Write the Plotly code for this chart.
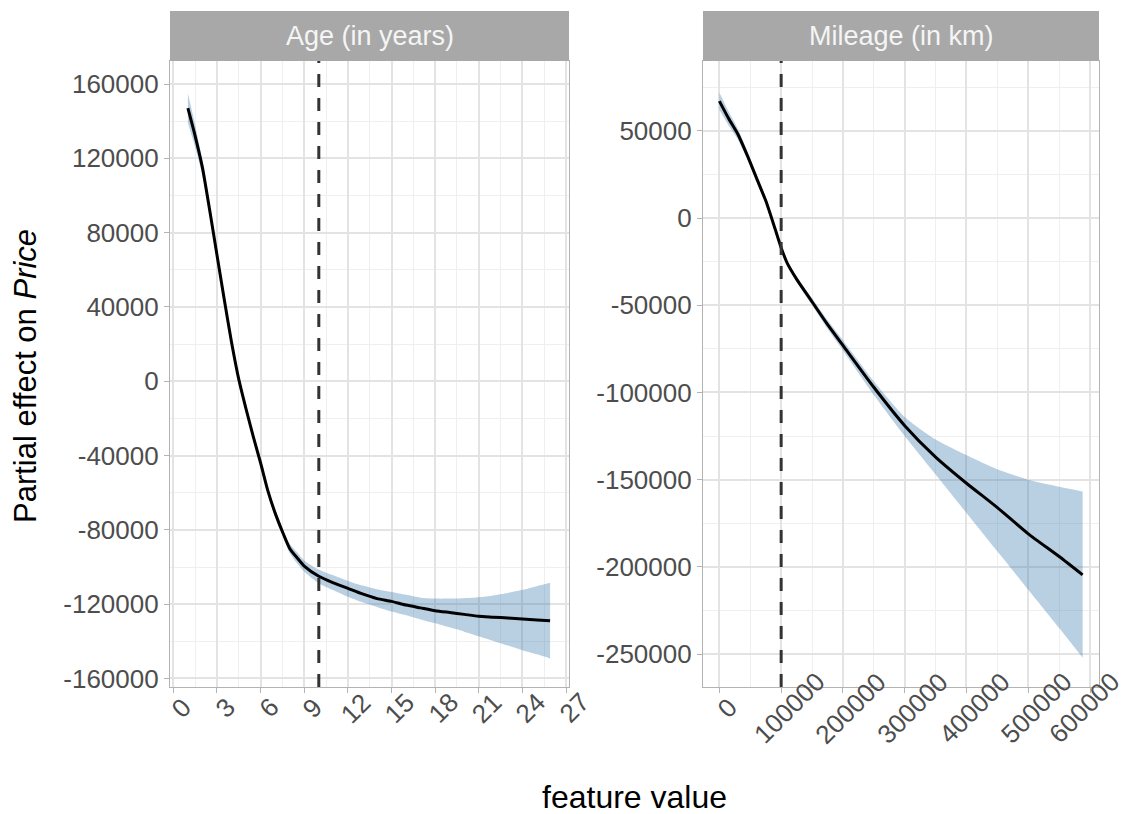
import plotly.graph_objects as go

# ---------------- data ----------------
age_x = [1, 1.5, 2, 2.5, 3, 3.5, 4, 4.5, 5, 5.5, 6, 6.5, 7, 7.5, 8, 8.5, 9, 10, 11, 12,
         13, 14, 15, 16, 17, 18, 19, 20, 21, 22, 23, 24, 25, 25.9]
age_fit = [147000, 132000, 115000, 92000, 68000, 44000, 21000, 1000, -15000, -30000,
           -44000, -59000, -71000, -81000, -90000, -95000, -99500, -105000, -108500, -111500,
           -114500, -117000, -118500, -120500, -122000, -123500, -124500, -125500, -126500,
           -127000, -127500, -128000, -128500, -129000]
age_upper = [155000, 138000, 119000, 95500, 71000, 47000, 24000, 3500, -13000, -28000,
             -42000, -57000, -69000, -79000, -87500, -92000, -96500, -101500, -104500, -107500,
             -110000, -112000, -113500, -115000, -116500, -117000, -117000, -116800, -116300,
             -115300, -114000, -112300, -110300, -108500]
age_lower = [139000, 126000, 111000, 88500, 65000, 41000, 18000, -1500, -17000, -32000,
             -46000, -61000, -73000, -83000, -92500, -98000, -102500, -108700, -112500, -116000,
             -119000, -121500, -124000, -126000, -128200, -130300, -132500, -134800, -137300,
             -139800, -142300, -144800, -147000, -149200]

mil_x = [0, 15000, 30000, 45000, 60000, 75000, 90000, 100000, 110000, 125000, 150000,
         175000, 200000, 250000, 300000, 350000, 400000, 450000, 500000, 550000, 588000]
mil_fit = [67000, 57000, 48000, 36000, 23000, 10000, -6000, -17000, -26000, -35000, -48000,
           -61000, -73000, -97000, -119000, -137000, -152000, -166000, -181000, -194000, -204500]
mil_upper = [72000, 61000, 51000, 38500, 25000, 12000, -4500, -15500, -24500, -33500, -46000,
             -58500, -70000, -93500, -114000, -127000, -136000, -144000, -150000, -154000, -156700]
mil_lower = [62000, 53000, 45000, 34000, 21000, 8000, -7500, -18500, -27500, -36500, -50000,
             -63500, -76000, -101500, -125000, -147000, -169000, -191000, -213000, -235000, -252000]

age_ref = 10
mil_ref = 100000
strip_labels = ["Age (in years)", "Mileage (in km)"]

age_xticks = [0, 3, 6, 9, 12, 15, 18, 21, 24, 27]
age_yticks = [-160000, -120000, -80000, -40000, 0, 40000, 80000, 120000, 160000]
mil_xticks = [0, 100000, 200000, 300000, 400000, 500000, 600000]
mil_yticks = [-250000, -200000, -150000, -100000, -50000, 0, 50000]

# ---------------- styles ----------------
W, H = 1121, 814
RIBBON = "rgba(70,130,180,0.38)"
TICKC = "#4D4D4D"
BORDER = "#B3B3B3"
GRID = "#E3E3E3"
MINOR = "#EFEFEF"
FONT = "Liberation Sans, Arial, sans-serif"
TICKSIZE = 26

fig = go.Figure()

def add_panel(x, lo, up, fit, xa, ya):
    sm = dict(shape="spline", smoothing=0.6)
    fig.add_trace(go.Scatter(x=x, y=lo, mode="lines", line=dict(width=0, **sm),
                             xaxis=xa, yaxis=ya, showlegend=False, hoverinfo="skip"))
    fig.add_trace(go.Scatter(x=x, y=up, mode="lines", line=dict(width=0, **sm), fill="tonexty",
                             fillcolor=RIBBON, xaxis=xa, yaxis=ya, showlegend=False,
                             hoverinfo="skip"))
    fig.add_trace(go.Scatter(x=x, y=fit, mode="lines",
                             line=dict(color="black", width=3, **sm),
                             xaxis=xa, yaxis=ya, showlegend=False))

add_panel(age_x, age_lower, age_upper, age_fit, "x", "y")
add_panel(mil_x, mil_lower, mil_upper, mil_fit, "x2", "y2")

ydom = [1 - 687 / H, 1 - 61 / H]
xdom1 = [170 / W, 569 / W]
xdom2 = [703 / W, 1099 / W]

common = dict(showline=True, linecolor=BORDER, linewidth=1.2, mirror=True,
              ticks="outside", ticklen=5, tickcolor=BORDER, tickwidth=1.2,
              showgrid=True, gridcolor=GRID, gridwidth=1.5, zeroline=False,
              tickfont=dict(family=FONT, size=TICKSIZE, color=TICKC), automargin=False,
              tickmode="array")

def minor(d):
    return dict(dtick=d, tick0=0, showgrid=True, gridcolor=MINOR, gridwidth=1, ticks="")

fig.update_layout(
    width=W, height=H, margin=dict(l=0, r=0, t=0, b=0),
    plot_bgcolor="white", paper_bgcolor="white",
    xaxis=dict(domain=xdom1, range=[-0.23, 27.2], tickvals=age_xticks,
               showticklabels=False, anchor="y", minor=minor(1.5), **common),
    yaxis=dict(domain=ydom, range=[-164600, 172400], tickvals=age_yticks,
               ticktext=[str(v) for v in age_yticks], anchor="x",
               minor=minor(20000), **common),
    xaxis2=dict(domain=xdom2, range=[-26500, 614500], tickvals=mil_xticks,
                showticklabels=False, anchor="y2", minor=minor(50000), **common),
    yaxis2=dict(domain=ydom, range=[-268800, 90000], tickvals=mil_yticks,
                ticktext=[str(v) for v in mil_yticks], anchor="x2",
                minor=minor(25000), **common),
)

# rotated x tick labels, centred on their ticks (as in the reference)
for ticks, xa in [(age_xticks, "x"), (mil_xticks, "x2")]:
    for i, v in enumerate(ticks):
        shift = 8
        if xa == "x2" and i == len(ticks) - 1:
            shift = -6  # keep the last label inside the page
        fig.add_annotation(xref=xa, yref="paper", x=v, y=1 - 708 / H, xshift=shift,
                           text=str(v), textangle=-45, showarrow=False,
                           font=dict(family=FONT, size=TICKSIZE, color=TICKC),
                           xanchor="center", yanchor="middle")

# reference dashed lines
for xr, xa, ya in [(age_ref, "x", "y domain"), (mil_ref, "x2", "y2 domain")]:
    fig.add_shape(type="line", xref=xa, yref=ya, x0=xr, x1=xr, y0=0, y1=1,
                  line=dict(color="#333333", width=3, dash="13px,11px"), layer="above")

# strips
strip_y0, strip_y1 = 1 - 61 / H, 1 - 11 / H
for dom, lab in zip([xdom1, xdom2], strip_labels):
    fig.add_shape(type="rect", xref="paper", yref="paper", x0=dom[0], x1=dom[1],
                  y0=strip_y0, y1=strip_y1, fillcolor="#A8A8A8", line=dict(width=0))
    fig.add_annotation(xref="paper", yref="paper", x=(dom[0] + dom[1]) / 2,
                       y=(strip_y0 + strip_y1) / 2, text=lab, showarrow=False,
                       font=dict(family=FONT, size=27, color="#F5F5F5"),
                       xanchor="center", yanchor="middle")

# axis titles
fig.add_annotation(xref="paper", yref="paper", x=25 / W, y=1 - 376 / H,
                   text="Partial effect on <i>Price</i>", textangle=-90, showarrow=False,
                   font=dict(family=FONT, size=31, color="black"),
                   xanchor="center", yanchor="middle")
fig.add_annotation(xref="paper", yref="paper", x=(xdom1[0] + xdom2[1]) / 2, y=1 - 797 / H,
                   text="feature value", showarrow=False,
                   font=dict(family=FONT, size=32, color="black"),
                   xanchor="center", yanchor="middle")

fig.write_html("out.html")
